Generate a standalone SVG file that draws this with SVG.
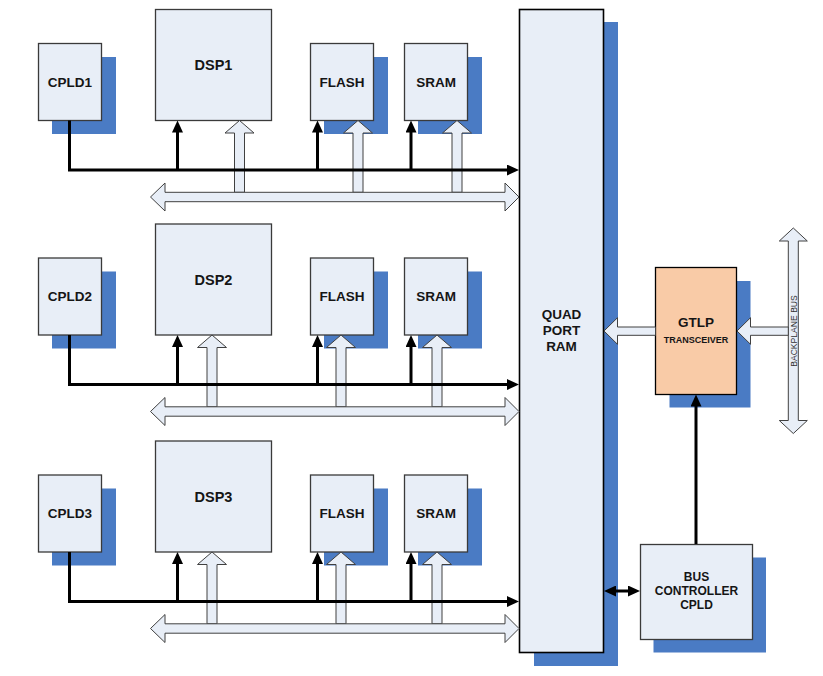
<svg xmlns="http://www.w3.org/2000/svg" width="823" height="676" viewBox="0 0 823 676">
<style>
.sh{fill:#4A7BC4}
.bx{fill:#E8EEF7;stroke:#3A3A3A;stroke-width:1.3}
.qb{fill:#E8EEF7;stroke:#000;stroke-width:1.6}
.gb{fill:#F9CBA7;stroke:#000;stroke-width:1.3}
.t{font-family:"Liberation Sans",Arial,sans-serif;font-weight:bold;font-size:13.5px;fill:#151515;text-anchor:middle;dominant-baseline:central}
.td{font-size:14.5px}
.ts{font-size:9px}
.tb{font-size:12px}
.bl{font-family:"Liberation Sans",Arial,sans-serif;font-size:8.6px;fill:#333;text-anchor:middle;dominant-baseline:central}
.ho{fill:#E8EEF7;stroke:#404040;stroke-width:1}
.bk{fill:none;stroke:#000;stroke-width:3;marker-end:url(#ah)}
</style>
<defs>
<marker id="ah" markerUnits="userSpaceOnUse" markerWidth="12" markerHeight="11" viewBox="0 0 12 11" refX="2" refY="5.5" orient="auto-start-reverse">
<path d="M0,0 L12,5.5 L0,11 z" fill="#000"/>
</marker>
</defs>
<rect width="823" height="676" fill="#fff"/>

<!-- Quad port RAM -->
<g id="quad">
<rect class="sh" x="534" y="22" width="84" height="644"/>
<rect class="qb" x="519.5" y="9.5" width="84" height="643"/>
<text class="t" x="561.5" y="314">QUAD</text>
<text class="t" x="561.5" y="330">PORT</text>
<text class="t" x="561.5" y="346">RAM</text>
</g>

<!-- Row 1 -->
<g id="cpld1"><rect class="sh" x="52" y="57" width="64" height="77"/><rect class="bx" x="38.5" y="43.5" width="63" height="77"/><text class="t" x="70" y="82">CPLD1</text></g>
<g id="dsp1"><rect class="bx" x="155.5" y="9.5" width="116" height="111"/><text class="t td" x="213.5" y="65">DSP1</text></g>
<g id="flash1"><rect class="sh" x="324" y="57" width="64" height="77"/><rect class="bx" x="310.5" y="43.5" width="63" height="77"/><text class="t" x="342" y="82">FLASH</text></g>
<g id="sram1"><rect class="sh" x="418" y="57" width="64" height="77"/><rect class="bx" x="404.5" y="43.5" width="63" height="77"/><text class="t" x="436" y="82">SRAM</text></g>

<!-- Row 2 -->
<g id="cpld2"><rect class="sh" x="52" y="271.5" width="64" height="77"/><rect class="bx" x="38.5" y="258" width="63" height="77"/><text class="t" x="70" y="296.5">CPLD2</text></g>
<g id="dsp2"><rect class="bx" x="155.5" y="224" width="116" height="111"/><text class="t td" x="213.5" y="279.5">DSP2</text></g>
<g id="flash2"><rect class="sh" x="324" y="271.5" width="64" height="77"/><rect class="bx" x="310.5" y="258" width="63" height="77"/><text class="t" x="342" y="296.5">FLASH</text></g>
<g id="sram2"><rect class="sh" x="418" y="271.5" width="64" height="77"/><rect class="bx" x="404.5" y="258" width="63" height="77"/><text class="t" x="436" y="296.5">SRAM</text></g>

<!-- Row 3 -->
<g id="cpld3"><rect class="sh" x="52" y="488.5" width="64" height="77"/><rect class="bx" x="38.5" y="475" width="63" height="77"/><text class="t" x="70" y="513.5">CPLD3</text></g>
<g id="dsp3"><rect class="bx" x="155.5" y="441" width="116" height="111"/><text class="t td" x="213.5" y="496.5">DSP3</text></g>
<g id="flash3"><rect class="sh" x="324" y="488.5" width="64" height="77"/><rect class="bx" x="310.5" y="475" width="63" height="77"/><text class="t" x="342" y="513.5">FLASH</text></g>
<g id="sram3"><rect class="sh" x="418" y="488.5" width="64" height="77"/><rect class="bx" x="404.5" y="475" width="63" height="77"/><text class="t" x="436" y="513.5">SRAM</text></g>

<!-- GTLP -->
<g id="gtlp">
<rect class="sh" x="669.5" y="281" width="81" height="126.5"/>
<rect class="gb" x="655.5" y="267.5" width="81" height="127"/>
<text class="t" x="696" y="322">GTLP</text>
<text class="t ts" x="696" y="339.5">TRANSCEIVER</text>
</g>

<!-- Bus controller -->
<g id="busctrl">
<rect class="sh" x="653.5" y="557.5" width="112.5" height="95"/>
<rect class="bx" x="640.5" y="544.5" width="112" height="95"/>
<text class="t tb" x="696.5" y="577">BUS</text>
<text class="t tb" x="696.5" y="591">CONTROLLER</text>
<text class="t tb" x="696.5" y="605">CPLD</text>
</g>

<!-- Backplane bus -->
<g id="backplane">
<polygon class="ho" points="793.3,228 807.3,241 798.3,241 798.3,420.5 807.3,420.5 793.3,433.5 779.3,420.5 788.3,420.5 788.3,241 779.3,241"/>
<text class="bl" transform="translate(793.5,331) rotate(-90)">BACKPLANE BUS</text>
</g>

<g id="connectors">
<!-- Row 1 hollow vertical -->
<polygon class="ho" points="239.5,120.5 254,133 244.5,133 244.5,192.3 234.5,192.3 234.5,133 225,133"/>
<polygon class="ho" points="358,120.5 372.5,133 363,133 363,192.3 353,192.3 353,133 343.5,133"/>
<polygon class="ho" points="457,120.5 471.5,133 462,133 462,192.3 452,192.3 452,133 442.5,133"/>
<polygon class="ho" points="150.5,197 165,183 165,192.3 505,192.3 505,183 519,197 505,211 505,201.7 165,201.7 165,211"/>
<path class="bk" d="M69.5,120.5 V170 H509"/>
<path class="bk" d="M177.5,170 V130.5"/>
<path class="bk" d="M317.5,170 V130.5"/>
<path class="bk" d="M411,170 V130.5"/>

<!-- Row 2 -->
<polygon class="ho" points="212,335 226.5,347.5 217,347.5 217,406.8 207,406.8 207,347.5 197.5,347.5"/>
<polygon class="ho" points="341,335 355.5,347.5 346,347.5 346,406.8 336,406.8 336,347.5 326.5,347.5"/>
<polygon class="ho" points="437,335 451.5,347.5 442,347.5 442,406.8 432,406.8 432,347.5 422.5,347.5"/>
<polygon class="ho" points="150.5,411.5 165,397.5 165,406.8 505,406.8 505,397.5 519,411.5 505,425.5 505,416.2 165,416.2 165,425.5"/>
<path class="bk" d="M69.5,335 V384.5 H509"/>
<path class="bk" d="M177.5,384.5 V345"/>
<path class="bk" d="M317.5,384.5 V345"/>
<path class="bk" d="M411,384.5 V345"/>

<!-- Row 3 -->
<polygon class="ho" points="212,552 226.5,564.5 217,564.5 217,623.8 207,623.8 207,564.5 197.5,564.5"/>
<polygon class="ho" points="341,552 355.5,564.5 346,564.5 346,623.8 336,623.8 336,564.5 326.5,564.5"/>
<polygon class="ho" points="437,552 451.5,564.5 442,564.5 442,623.8 432,623.8 432,564.5 422.5,564.5"/>
<polygon class="ho" points="150.5,628.5 165,614.5 165,623.8 505,623.8 505,614.5 519,628.5 505,642.5 505,633.2 165,633.2 165,642.5"/>
<path class="bk" d="M69.5,552 V601.5 H509"/>
<path class="bk" d="M177.5,601.5 V562"/>
<path class="bk" d="M317.5,601.5 V562"/>
<path class="bk" d="M411,601.5 V562"/>

<!-- GTLP links -->
<polygon class="ho" points="604,331 617.5,317.7 617.5,327 655.5,327 655.5,335.3 617.5,335.3 617.5,344.3"/>
<polygon class="ho" points="737,331 750.5,317.7 750.5,327 788.3,327 788.3,335.3 750.5,335.3 750.5,344.3"/>
<path class="bk" d="M696,544 V404.5"/>
<path class="bk" d="M614,591 H630" marker-start="url(#ah)"/>
</g>
</svg>
